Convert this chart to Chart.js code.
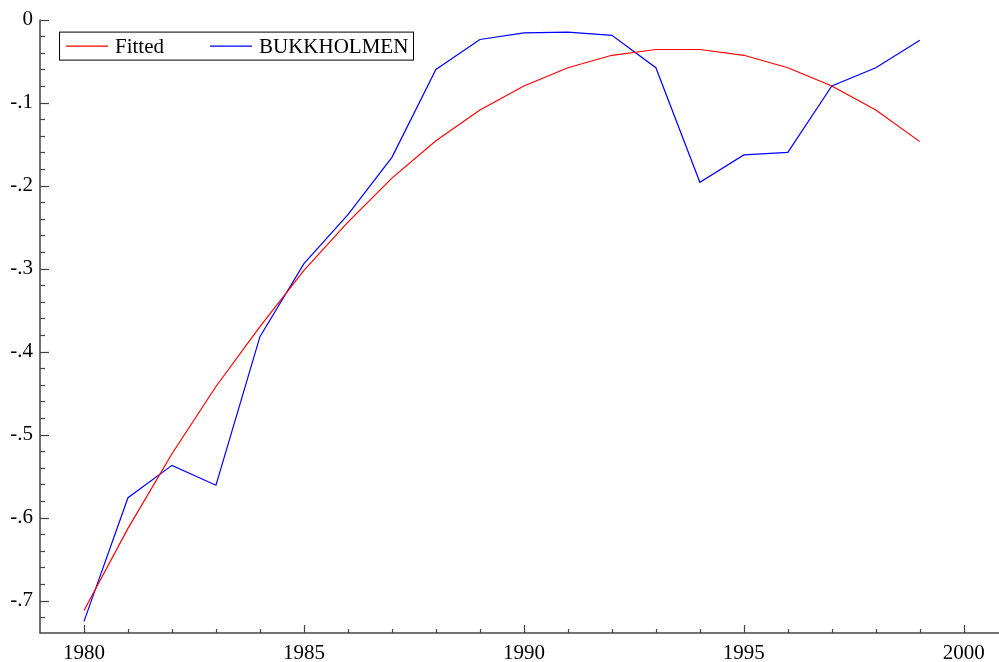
<!DOCTYPE html>
<html>
<head>
<meta charset="utf-8">
<script src="https://cdn.jsdelivr.net/npm/chart.js@4.4.0/dist/chart.umd.min.js"></script>
<style>
  html, body { margin: 0; padding: 0; background: #fff; }
  #wrap { width: 999px; height: 662px; }
</style>
</head>
<body>
<div id="wrap"><canvas id="c" width="999" height="662"></canvas></div>
<script>
const years = [1980,1981,1982,1983,1984,1985,1986,1987,1988,1989,1990,1991,1992,1993,1994,1995,1996,1997,1998,1999];
const fitted = [-0.712,-0.613,-0.523,-0.442,-0.370,-0.302,-0.244,-0.191,-0.146,-0.109,-0.080,-0.058,-0.043,-0.036,-0.036,-0.043,-0.058,-0.080,-0.109,-0.147];
const bukkholmen = [-0.725,-0.576,-0.537,-0.561,-0.382,-0.294,-0.235,-0.166,-0.060,-0.024,-0.016,-0.015,-0.019,-0.058,-0.196,-0.163,-0.160,-0.080,-0.058,-0.025];
const xTickValues = [1980,1985,1990,1995,2000];
const yTickValues = [0,-0.1,-0.2,-0.3,-0.4,-0.5,-0.6,-0.7];
const yTickLabels = ["0","-.1","-.2","-.3","-.4","-.5","-.6","-.7"];
const seriesNames = ["Fitted","BUKKHOLMEN"];

const FONT = "'Liberation Serif', 'DejaVu Serif', serif";

const axisPlugin = {
  id: 'axisPlugin',
  afterDraw(chart) {
    const ctx = chart.ctx;
    const a = chart.chartArea;
    const xs = chart.scales.x, ys = chart.scales.y;
    ctx.save();
    ctx.strokeStyle = '#444';
    ctx.lineWidth = 1.5;
    ctx.beginPath();
    ctx.moveTo(a.left, a.top);
    ctx.lineTo(a.left, a.bottom);
    ctx.lineTo(a.right, a.bottom);
    ctx.stroke();
    ctx.lineWidth = 1.2;
    for (let yr = 1980; yr <= 2000; yr++) {
      const px = Math.round(xs.getPixelForValue(yr)) + 0.5;
      const len = (yr % 5 === 0) ? 8 : 4;
      ctx.beginPath();
      ctx.moveTo(px, a.bottom);
      ctx.lineTo(px, a.bottom - len);
      ctx.stroke();
    }
    for (let k = 0; k <= 36; k++) {
      const v = -k * 0.02;
      if (v < ys.min) break;
      const py = Math.round(ys.getPixelForValue(v)) + 0.5;
      const len = (k % 5 === 0) ? 9 : 5;
      ctx.beginPath();
      ctx.moveTo(a.left, py);
      ctx.lineTo(a.left + len, py);
      ctx.stroke();
    }
    // legend
    const lx = a.left + 19, ly = a.top + 12, lw = 354, lh = 28;
    ctx.fillStyle = '#fff';
    ctx.fillRect(lx, ly, lw, lh);
    ctx.strokeStyle = '#000';
    ctx.lineWidth = 1;
    ctx.strokeRect(lx + 0.5, ly + 0.5, lw, lh);
    const cy = ly + lh / 2 + 0.5;
    const ds = chart.data.datasets;
    const entries = [{x: lx + 7, d: ds[0]}, {x: lx + 151, d: ds[1]}];
    ctx.font = '21px ' + FONT;
    ctx.textBaseline = 'middle';
    entries.forEach(e => {
      ctx.strokeStyle = e.d.borderColor;
      ctx.lineWidth = 1.2;
      ctx.beginPath();
      ctx.moveTo(e.x, cy);
      ctx.lineTo(e.x + 42, cy);
      ctx.stroke();
      ctx.fillStyle = '#000';
      ctx.fillText(e.d.label, e.x + 49, cy + 1);
    });
    ctx.restore();
  }
};

new Chart(document.getElementById('c'), {
  type: 'line',
  data: {
    datasets: [
      { label: seriesNames[0], data: years.map((y, i) => ({x: y, y: fitted[i]})), borderColor: '#ff0000', borderWidth: 1.2, pointRadius: 0, tension: 0, fill: false },
      { label: seriesNames[1], data: years.map((y, i) => ({x: y, y: bukkholmen[i]})), borderColor: '#0000ff', borderWidth: 1.2, pointRadius: 0, tension: 0, fill: false }
    ]
  },
  options: {
    responsive: false,
    animation: false,
    devicePixelRatio: 1,
    layout: { padding: { top: 19, right: 0, left: 0, bottom: 0 } },
    plugins: { legend: { display: false }, tooltip: { enabled: false } },
    scales: {
      x: {
        type: 'linear',
        min: 1979,
        max: 2000.8,
        grid: { display: false, drawTicks: false },
        border: { display: false },
        afterBuildTicks: s => { s.ticks = xTickValues.map(v => ({value: v})); },
        afterFit: s => { s.height = 29; },
        ticks: {
          color: '#000',
          font: { family: FONT, size: 21 },
          padding: 8,
          maxRotation: 0,
          autoSkip: false,
          callback: v => String(v)
        }
      },
      y: {
        type: 'linear',
        min: -0.739,
        max: 0,
        grid: { display: false, drawTicks: false },
        border: { display: false },
        afterBuildTicks: s => { s.ticks = yTickValues.map(v => ({value: v})); },
        afterFit: s => { s.width = 40; },
        ticks: {
          color: '#000',
          font: { family: FONT, size: 21 },
          padding: 7,
          autoSkip: false,
          callback: (v) => { const i = yTickValues.findIndex(t => Math.abs(t - v) < 1e-9); return i >= 0 ? yTickLabels[i] : ''; }
        }
      }
    }
  },
  plugins: [axisPlugin]
});
</script>
</body>
</html>
